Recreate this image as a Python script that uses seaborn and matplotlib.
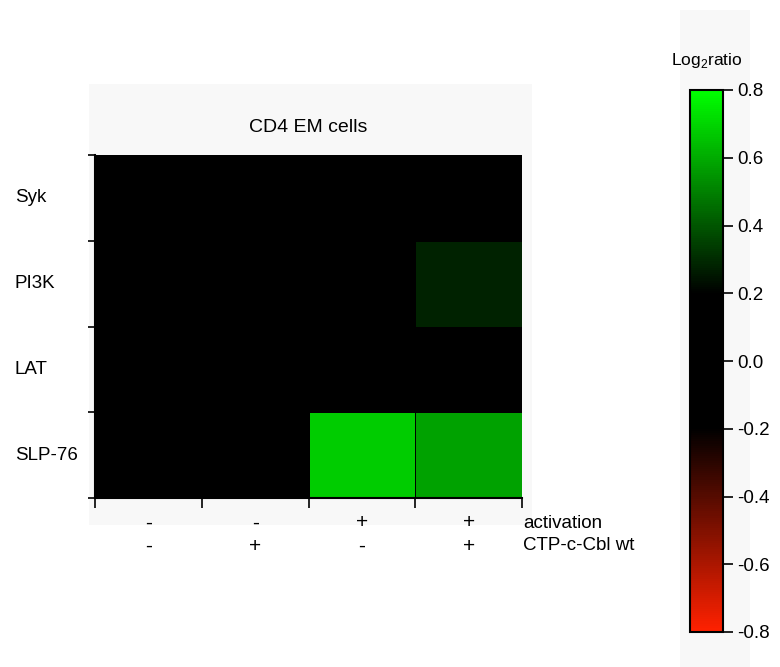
import numpy as np
import pandas as pd
import matplotlib
matplotlib.use("Agg")
import matplotlib.pyplot as plt
import matplotlib.transforms as mtransforms
from matplotlib.colors import LinearSegmentedColormap
from matplotlib.patches import Rectangle
import seaborn as sns

# ---- data ----
proteins = ["Syk", "PI3K", "LAT", "SLP-76"]
activation = ["-", "-", "+", "+"]
ctp_cbl = ["-", "+", "-", "+"]
condition_names = ["activation", "CTP-c-Cbl wt"]
syk = [0.0, 0.0, 0.0, 0.0]
pi3k = [0.0, 0.0, 0.0, 0.28]
lat = [0.0, 0.0, 0.0, 0.0]
slp76 = [0.0, 0.0, 0.68, 0.58]
cbar_ticks = [-0.8, -0.6, -0.4, -0.2, 0.0, 0.2, 0.4, 0.6, 0.8]
title = "CD4 EM cells"
cbar_label = "Log$_2$ratio"

sns.set_style("white")
plt.rcParams["font.family"] = ["Liberation Sans", "DejaVu Sans"]
plt.rcParams["mathtext.fontset"] = "custom"
plt.rcParams["mathtext.rm"] = "Liberation Sans"
plt.rcParams["text.color"] = "black"
plt.rcParams["xtick.color"] = "black"
plt.rcParams["ytick.color"] = "black"

df = pd.DataFrame([syk, pi3k, lat, slp76], index=proteins,
                  columns=[f"{a}/{c}" for a, c in zip(activation, ctp_cbl)])

cmap = LinearSegmentedColormap.from_list(
    "rgk",
    [(0.0, (1.0, 0.13, 0.0)), (0.375, (0, 0, 0)), (0.625, (0, 0, 0)), (1.0, (0.0, 1.0, 0.0))],
)

W, H = 780, 667
fig = plt.figure(figsize=(W / 100, H / 100), dpi=100)

def fx(px):
    return px / W

def fy(py):
    return 1 - py / H

# gray background panels in a background axes
bg = fig.add_axes([0, 0, 1, 1], zorder=-10)
bg.set_xlim(0, 1)
bg.set_ylim(0, 1)
bg.axis("off")
bg.add_patch(Rectangle((fx(89), fy(525)), fx(532) - fx(89), fy(84) - fy(525),
                       facecolor="#f8f8f8", edgecolor="none"))
bg.add_patch(Rectangle((fx(680), fy(667)), fx(750) - fx(680), fy(10) - fy(667),
                       facecolor="#f8f8f8", edgecolor="none"))

ax = fig.add_axes([fx(95), fy(498), fx(522) - fx(95), fy(155) - fy(498)])
cax = fig.add_axes([fx(690), fy(632), fx(723) - fx(690), fy(90) - fy(632)])

sns.heatmap(df, ax=ax, cmap=cmap, vmin=-0.8, vmax=0.8, cbar_ax=cax,
            linewidths=0.6, linecolor="black",
            cbar_kws={"ticks": cbar_ticks})

ax.patch.set_alpha(0)
# ticks at cell boundaries
ax.set_xticks(np.arange(len(activation) + 1))
ax.set_xticklabels([])
ax.set_yticks(np.arange(len(proteins) + 1))
ax.set_yticklabels([])
ax.tick_params(axis="x", length=7, width=1.2, color="black", direction="out", bottom=True)
ax.tick_params(axis="y", length=5, width=1.2, color="black", direction="out", left=True)
for s in ["left", "bottom"]:
    ax.spines[s].set_visible(True)
    ax.spines[s].set_color("black")
    ax.spines[s].set_linewidth(1.5)
ax.set_xlabel("")
ax.set_ylabel("")

# row labels
trans_y = mtransforms.blended_transform_factory(fig.transFigure, ax.transData)
for i, p in enumerate(proteins):
    ax.text(fx(15), i + 0.5, p, transform=trans_y, ha="left", va="center", fontsize=13.5)

# condition labels
trans_x = mtransforms.blended_transform_factory(ax.transData, fig.transFigure)
for j, (a, c) in enumerate(zip(activation, ctp_cbl)):
    ax.text(j + 0.5, fy(523), a, transform=trans_x, ha="center", va="center", fontsize=15, clip_on=False)
    ax.text(j + 0.5, fy(546), c, transform=trans_x, ha="center", va="center", fontsize=15, clip_on=False)
fig.text(fx(523), fy(523), condition_names[0], ha="left", va="center", fontsize=13.5)
fig.text(fx(523), fy(546), condition_names[1], ha="left", va="center", fontsize=13.5)

# title
fig.text((fx(95) + fx(522)) / 2, fy(127), title, ha="center", va="center", fontsize=14)

# colorbar styling
cb = ax.collections[0].colorbar
cb.outline.set_visible(True)
cb.outline.set_edgecolor("black")
cb.outline.set_linewidth(1.5)
cax.tick_params(length=7, width=1.2, color="black", labelsize=13.5, right=True, pad=3)
cax.set_yticklabels([f"{t:.1f}" for t in cbar_ticks])
fig.text((fx(690) + fx(723)) / 2, fy(60), cbar_label, ha="center", va="center", fontsize=12.5)

fig.savefig("out.png", dpi=100)
